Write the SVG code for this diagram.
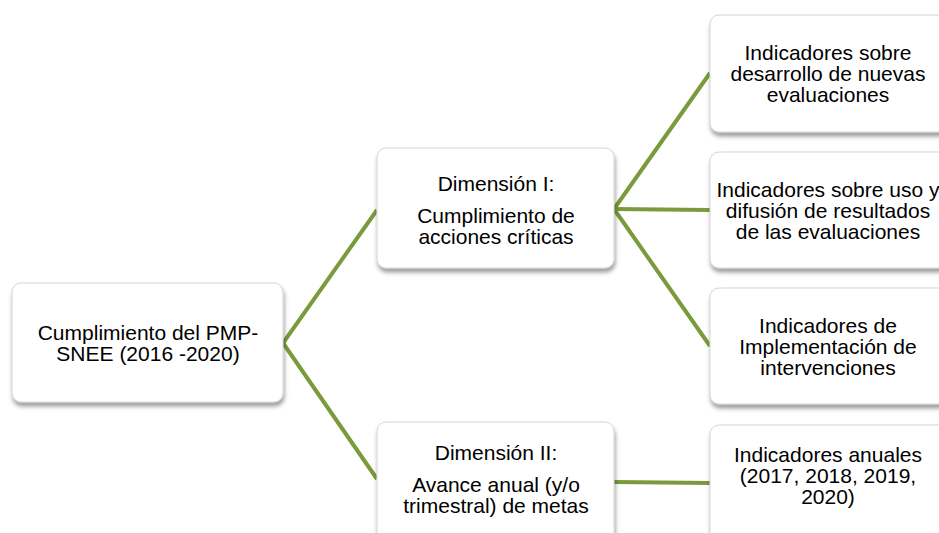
<svg xmlns="http://www.w3.org/2000/svg" width="939" height="533" viewBox="0 0 939 533">
<defs>
<filter id="sh" x="-10%" y="-10%" width="125%" height="130%">
<feDropShadow dx="1" dy="4" stdDeviation="2" flood-color="#000" flood-opacity="0.38"/>
</filter>
</defs>
<style>
.box{fill:#fff;stroke:#d4d4d4;stroke-width:1;filter:url(#sh)}
.t{font-family:"Liberation Sans",Arial,sans-serif;font-size:21px;fill:#000;text-anchor:middle}
.c{stroke:#7a9a3c;stroke-width:4;fill:none;stroke-linecap:butt;stroke-linejoin:miter}
</style>
<rect width="939" height="533" fill="#fff"/>
<g id="connectors">
<polyline class="c" points="377,210 283,343 377,479"/>
<line class="c" x1="614" y1="209" x2="710" y2="73"/>
<line class="c" x1="614" y1="209" x2="710" y2="210"/>
<line class="c" x1="614" y1="209" x2="710" y2="346"/>
<line class="c" x1="614" y1="482" x2="710" y2="483"/>
</g>
<g id="root">
<rect class="box" x="12" y="283" width="271" height="119" rx="9"/>
<text class="t" x="148" y="340">Cumplimiento del PMP-</text>
<text class="t" x="148" y="361">SNEE (2016 -2020)</text>
</g>
<g id="dim1">
<rect class="box" x="377" y="148" width="237" height="120" rx="9"/>
<text class="t" x="496" y="191">Dimensión I:</text>
<text class="t" x="496" y="223">Cumplimiento de</text>
<text class="t" x="496" y="244">acciones críticas</text>
</g>
<g id="dim2">
<rect class="box" x="377" y="422" width="237" height="120" rx="9"/>
<text class="t" x="496" y="460">Dimensión II:</text>
<text class="t" x="496" y="492">Avance anual (y/o</text>
<text class="t" x="496" y="513">trimestral) de metas</text>
</g>
<g id="ind1">
<rect class="box" x="710" y="15" width="237" height="117" rx="9"/>
<text class="t" x="828" y="60">Indicadores sobre</text>
<text class="t" x="828" y="81">desarrollo de nuevas</text>
<text class="t" x="828" y="102">evaluaciones</text>
</g>
<g id="ind2">
<rect class="box" x="710" y="152" width="237" height="116" rx="9"/>
<text class="t" x="828" y="197">Indicadores sobre uso y</text>
<text class="t" x="828" y="218">difusión de resultados</text>
<text class="t" x="828" y="239">de las evaluaciones</text>
</g>
<g id="ind3">
<rect class="box" x="710" y="288" width="237" height="116" rx="9"/>
<text class="t" x="828" y="333">Indicadores de</text>
<text class="t" x="828" y="354">Implementación de</text>
<text class="t" x="828" y="375">intervenciones</text>
</g>
<g id="ind4">
<rect class="box" x="710" y="425" width="237" height="117" rx="9"/>
<text class="t" x="828" y="462">Indicadores anuales</text>
<text class="t" x="828" y="483">(2017, 2018, 2019,</text>
<text class="t" x="828" y="504">2020)</text>
</g>
</svg>
